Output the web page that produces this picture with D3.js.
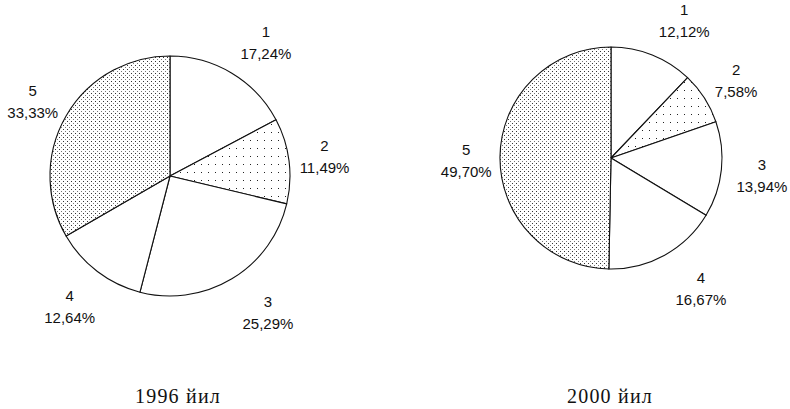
<!DOCTYPE html>
<html>
<head>
<meta charset="utf-8">
<script src="https://cdn.jsdelivr.net/npm/d3@7/dist/d3.min.js"></script>
<style>
  html, body { margin: 0; padding: 0; background: #fff; }
  svg { display: block; }
  .lbl { font-family: "Liberation Sans", Arial, sans-serif; font-size: 15px; fill: #111; }
  .ttl { font-family: "Liberation Serif", "Times New Roman", serif; font-size: 20px; letter-spacing: 1.2px; fill: #111; }
</style>
</head>
<body>
<script>
// Slice numbers, shares (%) for each year, and the captions under the pies
const sliceNames = ["1", "2", "3", "4", "5"];
const shares1996 = [17.24, 11.49, 25.29, 12.64, 33.33];
const shares2000 = [12.12, 7.58, 13.94, 16.67, 49.70];
const captions = ["1996 йил", "2000 йил"];

// Fill style for each slice: plain, sparse dots, plain, plain, dense dots
const sliceFill = ["#fff", "url(#dotsSparse)", "#fff", "#fff", "url(#dotsDense)"];

const W = 790, H = 409;
const svg = d3.select("body").append("svg").attr("width", W).attr("height", H);

const defs = svg.append("defs");
const sparse = defs.append("pattern").attr("id", "dotsSparse")
  .attr("patternUnits", "userSpaceOnUse").attr("width", 7).attr("height", 8);
sparse.append("rect").attr("width", 7).attr("height", 8).attr("fill", "#fff");
sparse.append("rect").attr("x", 3).attr("y", 4).attr("width", 1).attr("height", 1).attr("fill", "#222");

const dense = defs.append("pattern").attr("id", "dotsDense")
  .attr("patternUnits", "userSpaceOnUse").attr("width", 4).attr("height", 4);
dense.append("rect").attr("width", 4).attr("height", 4).attr("fill", "#fff");
dense.append("rect").attr("x", 1).attr("y", 1).attr("width", 1).attr("height", 1).attr("fill", "#333");
dense.append("rect").attr("x", 3).attr("y", 3).attr("width", 1).attr("height", 1).attr("fill", "#777");

// Per-slice nudges of the label blocks: wide two-line labels sit a little
// further towards the horizontal than the plain centroid direction
const nudge1996 = [[13, 4], [-5, 0], [15, -2], [-3, 2], [2, 5]];
const nudge2000 = [[18, 0], [0, 2], [3, 1], [18, 0], [4, 3]];

const pies = [
  { values: shares1996, nudge: nudge1996, cx: 170, cy: 176, r: 120, caption: captions[0], capX: 178 },
  { values: shares2000, nudge: nudge2000, cx: 611, cy: 158, r: 111, caption: captions[1], capX: 610 }
];

const pie = d3.pie().sort(null).value(d => d.v);
const fmt = v => d3.format(".2f")(v).replace(".", ",") + "%";

pies.forEach(p => {
  const data = pie(p.values.map((v, i) => ({ v, name: sliceNames[i], i })));
  const arc = d3.arc().innerRadius(0).outerRadius(p.r);
  const labelArc = d3.arc().innerRadius(p.r * 1.34).outerRadius(p.r * 1.34);
  const g = svg.append("g").attr("transform", `translate(${p.cx},${p.cy})`);

  g.selectAll("path.slice").data(data).join("path")
    .attr("class", "slice")
    .attr("d", arc)
    .attr("fill", d => sliceFill[d.data.i])
    .attr("stroke", "#111")
    .attr("stroke-width", 1.1)
    .attr("stroke-linejoin", "round");

  const lg = g.selectAll("g.lab").data(data).join("g")
    .attr("class", "lab")
    .attr("transform", d => {
      const c = labelArc.centroid(d), n = p.nudge[d.data.i];
      return `translate(${c[0] + n[0]},${c[1] + n[1]})`;
    });
  lg.append("text").attr("class", "lbl").attr("text-anchor", "middle")
    .attr("y", -5).text(d => d.data.name);
  lg.append("text").attr("class", "lbl").attr("text-anchor", "middle")
    .attr("y", 17).text(d => fmt(d.data.v));

  svg.append("text").attr("class", "ttl").attr("text-anchor", "middle")
    .attr("x", p.capX).attr("y", 403).text(p.caption);
});
</script>
</body>
</html>
